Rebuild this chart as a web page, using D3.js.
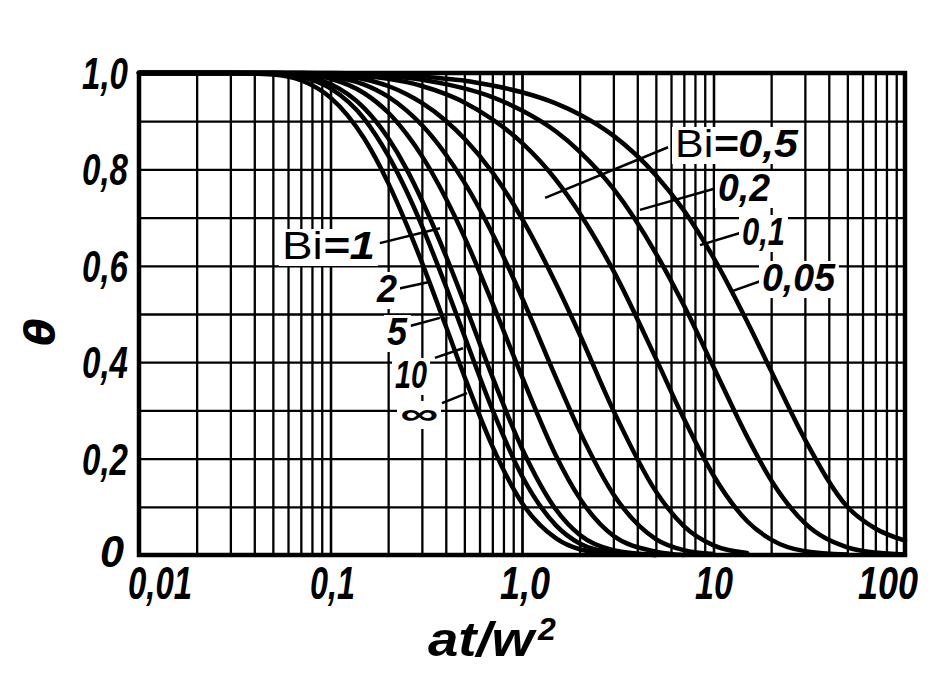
<!DOCTYPE html>
<html><head><meta charset="utf-8">
<script src="https://cdn.jsdelivr.net/npm/d3@7"></script>
<style>body{margin:0;background:#fff}svg{display:block}</style>
</head><body>
<svg id="c" width="945" height="693"></svg>
<script>
// ---- data ----
const xSamples = [0.01, 0.03, 0.05, 0.07, 0.1, 0.15, 0.2, 0.25, 0.3, 0.4, 0.5, 0.7, 1, 1.5, 2, 3, 5, 7, 10, 15, 20, 30, 50, 70, 100];
const biNames = ["∞", "10", "5", "2", "1", "0,5", "0,2", "0,1", "0,05"];
const thetaBiInf = [1, 1, 0.997, 0.985, 0.949, 0.864, 0.772, 0.685, 0.607, 0.475, 0.371, 0.226, 0.108, 0.035, 0.012, 0.002, null, null, null, null, null, null, null, null, null];
const thetaBi10  = [1, 1, 0.999, 0.992, 0.968, 0.905, 0.829, 0.754, 0.683, 0.558, 0.455, 0.302, 0.164, 0.062, 0.024, 0.005, 0.0, null, null, null, null, null, null, null, null];
const thetaBi5   = [1, 1, 0.999, 0.994, 0.977, 0.927, 0.865, 0.800, 0.736, 0.621, 0.523, 0.370, 0.221, 0.095, 0.042, 0.010, 0.0, null, null, null, null, null, null, null, null];
const thetaBi2   = [1, 1, 1, 0.997, 0.988, 0.958, 0.918, 0.873, 0.828, 0.740, 0.660, 0.523, 0.370, 0.207, 0.118, 0.040, 0.007, 0.0, null, null, null, null, null, null, null];
const thetaBi1   = [1, 1, 1, 0.998, 0.993, 0.976, 0.951, 0.922, 0.892, 0.831, 0.773, 0.667, 0.534, 0.369, 0.257, 0.126, 0.033, 0.010, 0.002, null, null, null, null, null, null];
const thetaBi05  = [1, 1, 1, 0.999, 0.996, 0.987, 0.973, 0.956, 0.938, 0.901, 0.864, 0.794, 0.698, 0.564, 0.458, 0.300, 0.132, 0.060, 0.020, 0.004, null, null, null, null, null];
const thetaBi02  = [1, 1, 1, 1, 0.998, 0.994, 0.988, 0.981, 0.973, 0.956, 0.939, 0.904, 0.855, 0.779, 0.709, 0.590, 0.408, 0.283, 0.165, 0.070, 0.032, 0.008, 0.001, null, null];
const thetaBi01  = [1, 1, 1, 1, 0.999, 0.997, 0.994, 0.990, 0.986, 0.977, 0.968, 0.950, 0.922, 0.879, 0.837, 0.760, 0.626, 0.518, 0.390, 0.245, 0.155, 0.066, 0.016, 0.005, 0.001];
const thetaBi005 = [1, 1, 1, 1, 1, 0.999, 0.997, 0.995, 0.993, 0.988, 0.984, 0.974, 0.960, 0.937, 0.914, 0.870, 0.788, 0.715, 0.617, 0.484, 0.382, 0.240, 0.100, 0.055, 0.030];
const xTickValues = [0.01, 0.1, 1, 10, 100];
const xTickLabels = ["0,01", "0,1", "1,0", "10", "100"];
const yTickValues = [0, 0.2, 0.4, 0.6, 0.8, 1.0];
const yTickLabels = ["0", "0,2", "0,4", "0,6", "0,8", "1,0"];

const series = [thetaBiInf, thetaBi10, thetaBi5, thetaBi2, thetaBi1, thetaBi05, thetaBi02, thetaBi01, thetaBi005];

// ---- layout ----
const L = 139, R = 905, T = 73, B = 555;
const svg = d3.select("#c");
const x = d3.scaleLog().domain([0.01, 100]).range([L, R]);
const y = d3.scaleLinear().domain([0, 1]).range([B, T]);

// grid
const gridX = [];
for (let d = 0.01; d < 100; d *= 10) for (let k = 1; k <= 10; k++) gridX.push(+(d * k).toPrecision(3));
const gridY = d3.range(0, 11).map(i => i / 10);

const gx = svg.append("g").attr("transform", `translate(0,${B})`)
  .call(d3.axisBottom(x).tickValues(gridX).tickSize(-(B - T)).tickFormat(""));
gx.select(".domain").remove();
gx.selectAll(".tick text").remove();
gx.selectAll(".tick line").attr("stroke", "#000").attr("stroke-width", 2.3);

const gy = svg.append("g").attr("transform", `translate(${L},0)`)
  .call(d3.axisLeft(y).tickValues(gridY).tickSize(-(R - L)).tickFormat(""));
gy.select(".domain").remove();
gy.selectAll(".tick text").remove();
gy.selectAll(".tick line").attr("stroke", "#000").attr("stroke-width", 2.3);

// curves
const line = d3.line()
  .defined(d => d[1] !== null)
  .x(d => x(d[0])).y(d => y(d[1]))
  .curve(d3.curveMonotoneX);
const curvesG = svg.append("g");
series.forEach((s) => {
  const pts = xSamples.map((xv, i) => [xv, s[i]]);
  curvesG.append("path").attr("d", line(pts))
    .attr("fill", "none").attr("stroke", "#000").attr("stroke-width", 4.5)
    .attr("stroke-linejoin", "round").attr("stroke-linecap", "round");
});

// frame
svg.append("rect").attr("x", L).attr("y", T).attr("width", R - L).attr("height", B - T)
  .attr("fill", "none").attr("stroke", "#000").attr("stroke-width", 4.5);

// labels helper
const font = "'Liberation Sans', Arial, sans-serif";
const labelsG = svg.append("g");
function label(txt, px, py, size, width, anchor, opts = {}) {
  const g = labelsG.append("g");
  const t = g.append("text").attr("x", px).attr("y", py)
    .attr("font-family", font).attr("font-size", size)
    .attr("font-weight", "bold")
    .attr("font-style", "italic")
    .attr("text-anchor", anchor || "start")
    .attr("fill", "#000");
  if (opts.bi) {
    t.append("tspan").attr("font-style", "normal").attr("font-weight", "normal").text("Bi");
    t.append("tspan").text(txt);
  } else {
    t.text(txt);
  }
  if (width) t.attr("textLength", width).attr("lengthAdjust", "spacingAndGlyphs");
  if (opts.bg) {
    const bb = t.node().getBBox();
    g.insert("rect", () => t.node()).attr("x", bb.x - 3).attr("y", bb.y + 4)
      .attr("width", bb.width + 6).attr("height", bb.height - 5).attr("fill", "#fff");
  }
  return t;
}

// tick labels
yTickValues.forEach((v, i) => {
  const w = yTickLabels[i].length === 1 ? 24 : 46;
  const dx = i === 0 ? -4 : 0;
  label(yTickLabels[i], 128 + dx, y(v) + 16 - (i === 0 ? 4 : 0), 44, w, "end");
});
const xLabelPos = [[128, 64], [310, 45], [500, 50], [695, 38], [858, 60]];
xTickValues.forEach((v, i) => {
  const off = xLabelPos[i][0] - x(v);
  label(xTickLabels[i], x(v) + off, 599, 46, xLabelPos[i][1], "start");
});

// axis titles
svg.append("text").attr("x", 428).attr("y", 656)
  .attr("font-family", font).attr("font-size", 48).attr("font-style", "italic").attr("font-weight", "bold")
  .attr("textLength", 106).attr("lengthAdjust", "spacingAndGlyphs").text("at/w");
svg.append("text").attr("x", 538).attr("y", 640)
  .attr("font-family", font).attr("font-size", 32).attr("font-style", "italic").attr("font-weight", "bold").text("2");
svg.append("text").attr("transform", "translate(54,332) rotate(-90)")
  .attr("font-family", "'DejaVu Sans', sans-serif").attr("font-size", 40).attr("font-style", "italic")
  .attr("font-weight", "bold").attr("text-anchor", "middle").text("θ");

// curve annotations: text, leader from (x,θ) to (x,θ)
const annotations = [
  {t: "=0,5", bi: true, px: 675, py: 157, w: 123, fs: 38, from: [5.79, 0.846], to: [1.32, 0.741]},
  {t: "0,2",    px: 718, py: 201, w: 52, fs: 38, from: [10.3, 0.761], to: [4.13, 0.716]},
  {t: "0,1",    px: 742, py: 245, w: 43, fs: 38, from: [13.75, 0.668], to: [8.5, 0.643]},
  {t: "0,05",   px: 762, py: 291, w: 73, fs: 38, from: [17.5, 0.568], to: [12.2, 0.546]},
  {t: "=1", bi: true, px: 282, py: 259, w: 93, fs: 38, from: [0.181, 0.647], to: [0.373, 0.678]},
  {t: "2",      px: 377, py: 302, w: 20, fs: 38, from: [0.2225, 0.552], to: [0.323, 0.566]},
  {t: "5",      px: 387, py: 345, w: 20, fs: 38, from: [0.260, 0.475], to: [0.373, 0.492]},
  {t: "10",     px: 395, py: 388, w: 32, fs: 38, from: [0.351, 0.409], to: [0.492, 0.429]},
  {t: "∞",      px: 400, py: 424, w: 38, fs: 30, from: [0.382, 0.315], to: [0.516, 0.336]}
];
annotations.forEach(a => {
  labelsG.append("line")
    .attr("x1", x(a.from[0])).attr("y1", y(a.from[1]))
    .attr("x2", x(a.to[0])).attr("y2", y(a.to[1]))
    .attr("stroke", "#000").attr("stroke-width", 2.5);
});
annotations.forEach(a => {
  label(a.t, a.px, a.py, a.fs, a.w, "start", {bg: true, bi: a.bi});
});
</script>
</body></html>
